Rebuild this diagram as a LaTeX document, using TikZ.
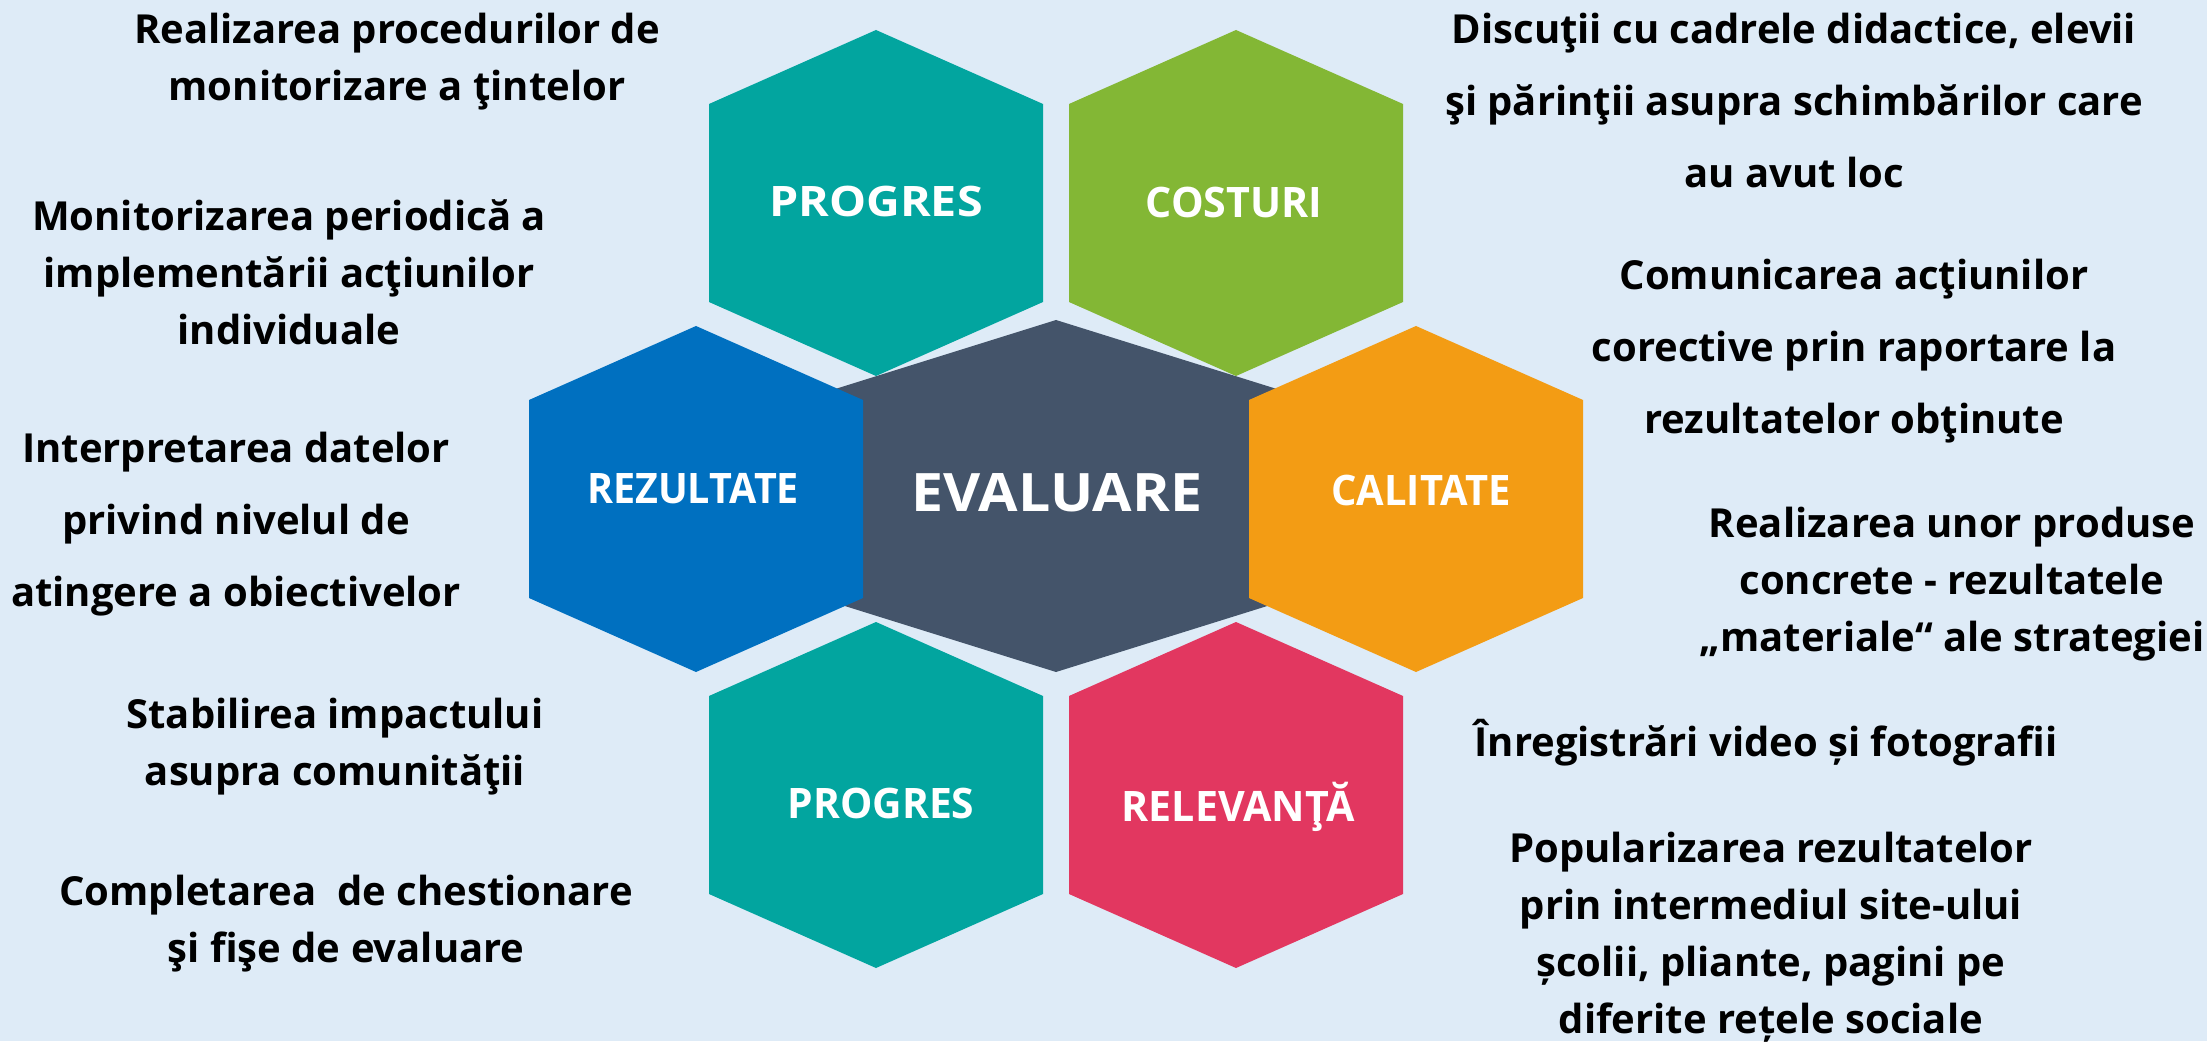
\documentclass[tikz,border=0pt]{standalone}
\usepackage{graphicx}
\usepackage{fontspec}
\setmainfont{Open Sans}
\definecolor{bgblue}{HTML}{DEEBF7}
\definecolor{teal}{HTML}{02A59F}
\definecolor{leaf}{HTML}{83B735}
\definecolor{royal}{HTML}{0070C0}
\definecolor{slate}{HTML}{44546A}
\definecolor{amber}{HTML}{F39C14}
\definecolor{rose}{HTML}{E23760}

\begin{document}
\begin{tikzpicture}[x=0.5pt,y=-0.5pt,
    hexlabel/.style={text=white,font=\bfseries\fontsize{21}{21}\selectfont,
      anchor=base,inner sep=0pt},
    note/.style={font=\bfseries\fontsize{20}{28.5}\selectfont,align=center,inner sep=0pt},
    wide note/.style={note,font=\bfseries\fontsize{20}{36}\selectfont}]
\fill[bgblue] (0,0) rectangle (2207,1041);

% centre
\fill[slate] (1056,320) -- (1296,395) -- (1296,597) -- (1056,672)
  -- (816,597) -- (816,395) -- cycle;
\node[hexlabel,font=\bfseries\fontsize{26.5}{26.5}\selectfont] (eval) at (1057,512)
  {\scalebox{1.08}[1]{EVALUARE}};

% hexagons round the centre
\foreach \cx/\cy/\col/\nm/\txt/\lx/\ly/\sc in {876/203/teal/progtop/PROGRES/876/217/1.11,
    1236/203/leaf/cost/COSTURI/1234/218/0.98,
    696/499/royal/rez/REZULTATE/693/504/0.94,
    1416/499/amber/cal/CALITATE/1421/506/0.95,
    876/795/teal/progbot/PROGRES/881/818/0.97,
    1236/795/rose/relev/RELEVANŢĂ/1238/821/0.98}
{
  \fill[\col] (\cx,\cy-173) -- (\cx+167,\cy-99) -- (\cx+167,\cy+99) -- (\cx,\cy+173)
    -- (\cx-167,\cy+99) -- (\cx-167,\cy-99) -- cycle;
  \node[hexlabel] (\nm) at (\lx,\ly) {\scalebox{\sc}[1]{\txt}};
}

% left column
\node[note] (targets) at (397,62) {Realizarea procedurilor de\\monitorizare a ţintelor};
\node[note] (periodic) at (289,272) {Monitorizarea periodică a\\implementării acţiunilor\\individuale};
\node[wide note] (data) at (236,524) {Interpretarea datelor\\privind nivelul de\\atingere a obiectivelor};
\node[note] (impact) at (335,747) {Stabilirea impactului\\asupra comunităţii};
\node[note] (survey) at (346,924) {Completarea\ \ de chestionare\\şi fişe de evaluare};

% right column
\node[wide note] (talks) at (1794,101) {Discuţii cu cadrele didactice, elevii\\şi părinţii asupra schimbărilor care\\au avut loc};
\node[wide note] (report) at (1854,351) {Comunicarea acţiunilor\\corective prin raportare la\\rezultatelor obţinute};
\node[note] (products) at (1952,584) {Realizarea unor produse\\concrete - rezultatele\\„materiale“ ale strategiei};
\node[note] (video) at (1766,743) {Înregistrări video și fotografii};
\node[note] (publish) at (1771,937) {Popularizarea rezultatelor\\prin intermediul site-ului\\școlii, pliante, pagini pe\\diferite rețele sociale};

\end{tikzpicture}
\end{document}
